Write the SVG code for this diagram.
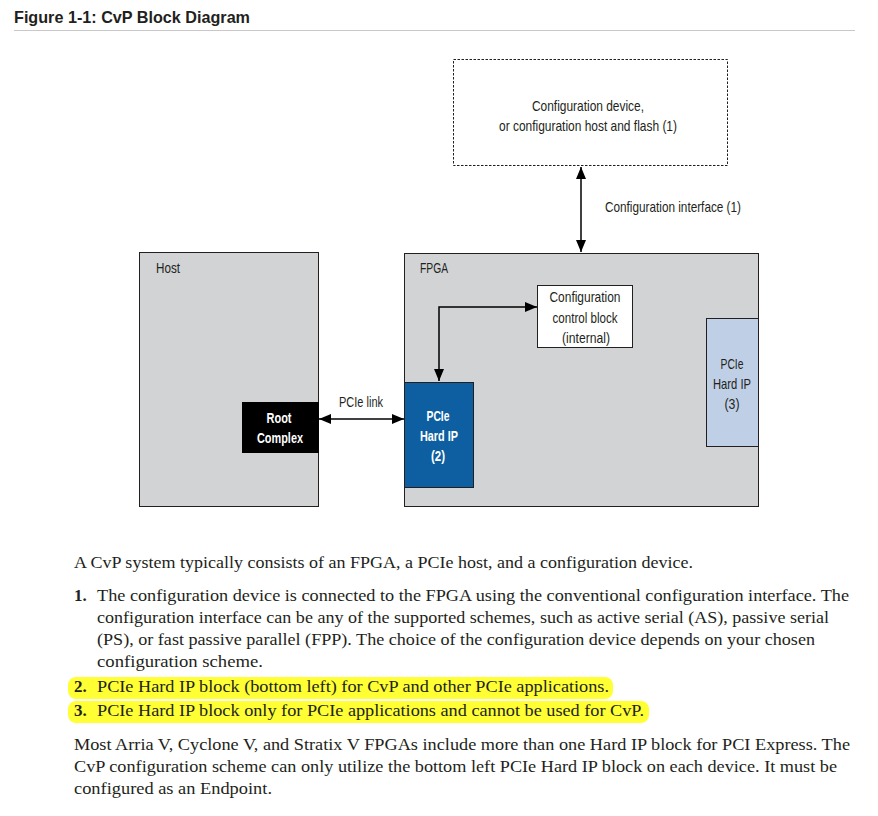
<svg xmlns="http://www.w3.org/2000/svg" width="878" height="816" viewBox="0 0 878 816">
<style>
.lbl{font-family:"Liberation Sans Narrow","Liberation Sans",Arial,sans-serif;font-size:15px;fill:#231f20;text-anchor:middle}
.lbll{font-family:"Liberation Sans Narrow","Liberation Sans",Arial,sans-serif;font-size:15px;fill:#231f20}
.wb{font-weight:bold;fill:#ffffff}
.body{font-family:"Liberation Serif","Times New Roman",serif;font-size:17px;fill:#231f20}
.num{font-weight:bold}
.conn{stroke:#000;stroke-width:1.5;fill:none}
.box{stroke:#231f20;stroke-width:1}
.hl{fill:#ffff33}
</style>
<defs>
<marker id="ah" viewBox="0 0 12 10" refX="12" refY="5" markerWidth="12" markerHeight="10" markerUnits="userSpaceOnUse" orient="auto-start-reverse">
<path d="M0,0 L12,5 L0,10 Z" fill="#000"/>
</marker>
</defs>
<rect width="878" height="816" fill="#ffffff"/>

<g id="title">
<text x="14" y="23" font-family="Liberation Sans, Arial, sans-serif" font-weight="bold" font-size="17" fill="#231f20" textLength="236" lengthAdjust="spacingAndGlyphs">Figure 1-1: CvP Block Diagram</text>
<line x1="14" y1="30.5" x2="855" y2="30.5" stroke="#c8c8c8" stroke-width="1"/>
</g>

<g id="config-device">
<rect x="453.5" y="59.5" width="274" height="106" fill="#ffffff" stroke="#231f20" stroke-width="1" stroke-dasharray="2.5,1.5"/>
<text class="lbl" x="588" y="111" textLength="112" lengthAdjust="spacingAndGlyphs">Configuration device,</text>
<text class="lbl" x="588" y="131" textLength="178" lengthAdjust="spacingAndGlyphs">or configuration host and flash (1)</text>
</g>

<g id="host">
<rect class="box" x="139.5" y="252.5" width="179" height="254" fill="#d1d3d4"/>
<text class="lbll" x="156" y="273" textLength="24" lengthAdjust="spacingAndGlyphs">Host</text>
</g>

<g id="root-complex">
<rect x="242" y="402" width="77" height="51" fill="#000000"/>
<text class="lbl wb" x="279" y="423" textLength="25" lengthAdjust="spacingAndGlyphs">Root</text>
<text class="lbl wb" x="280" y="443" textLength="46" lengthAdjust="spacingAndGlyphs">Complex</text>
</g>

<g id="fpga">
<rect class="box" x="404.5" y="253.5" width="354" height="253" fill="#d1d3d4"/>
<text class="lbll" x="420" y="273" textLength="28" lengthAdjust="spacingAndGlyphs">FPGA</text>
</g>

<g id="config-control">
<rect class="box" x="537.5" y="285.5" width="95" height="62" fill="#ffffff"/>
<text class="lbl" x="585" y="302" textLength="71" lengthAdjust="spacingAndGlyphs">Configuration</text>
<text class="lbl" x="585" y="323" textLength="65" lengthAdjust="spacingAndGlyphs">control block</text>
<text class="lbl" x="586" y="343" textLength="48" lengthAdjust="spacingAndGlyphs">(internal)</text>
</g>

<g id="pcie-hip-2">
<rect x="404.5" y="382.5" width="69" height="105" fill="#0d5fa1" stroke="#231f20" stroke-width="1"/>
<text class="lbl wb" x="438" y="421" textLength="23" lengthAdjust="spacingAndGlyphs">PCIe</text>
<text class="lbl wb" x="439" y="441" textLength="38" lengthAdjust="spacingAndGlyphs">Hard IP</text>
<text class="lbl wb" x="438" y="461" textLength="14" lengthAdjust="spacingAndGlyphs">(2)</text>
</g>

<g id="pcie-hip-3">
<rect x="706.5" y="318.5" width="52" height="128" fill="#bfcfe6" stroke="#231f20" stroke-width="1"/>
<text class="lbl" x="732" y="369" textLength="23" lengthAdjust="spacingAndGlyphs">PCIe</text>
<text class="lbl" x="732" y="389" textLength="38" lengthAdjust="spacingAndGlyphs">Hard IP</text>
<text class="lbl" x="732" y="409" textLength="15" lengthAdjust="spacingAndGlyphs">(3)</text>
</g>

<g id="connectors">
<line class="conn" x1="581" y1="167" x2="581" y2="252" marker-start="url(#ah)" marker-end="url(#ah)"/>
<text class="lbll" x="605" y="212" textLength="136" lengthAdjust="spacingAndGlyphs">Configuration interface (1)</text>
<line class="conn" x1="319" y1="419" x2="404" y2="419" marker-start="url(#ah)" marker-end="url(#ah)"/>
<text class="lbl" x="361" y="407" textLength="44" lengthAdjust="spacingAndGlyphs">PCIe link</text>
<path class="conn" d="M439,381 V307 H537" marker-start="url(#ah)" marker-end="url(#ah)"/>
</g>

<g id="text-body">
<rect class="hl" x="68" y="677" width="545" height="22" rx="8"/>
<rect class="hl" x="68" y="701" width="581" height="22" rx="8"/>
<text class="body" x="74" y="568" textLength="619" lengthAdjust="spacingAndGlyphs">A CvP system typically consists of an FPGA, a PCIe host, and a configuration device.</text>
<text class="body num" x="74" y="601">1.</text>
<text class="body" x="97" y="601" textLength="752" lengthAdjust="spacingAndGlyphs">The configuration device is connected to the FPGA using the conventional configuration interface. The</text>
<text class="body" x="97" y="623" textLength="732" lengthAdjust="spacingAndGlyphs">configuration interface can be any of the supported schemes, such as active serial (AS), passive serial</text>
<text class="body" x="97" y="645" textLength="718" lengthAdjust="spacingAndGlyphs">(PS), or fast passive parallel (FPP). The choice of the configuration device depends on your chosen</text>
<text class="body" x="97" y="667" textLength="166" lengthAdjust="spacingAndGlyphs">configuration scheme.</text>
<text class="body num" x="74" y="692">2.</text>
<text class="body" x="97" y="692" textLength="512" lengthAdjust="spacingAndGlyphs">PCIe Hard IP block (bottom left) for CvP and other PCIe applications.</text>
<text class="body num" x="74" y="716">3.</text>
<text class="body" x="97" y="716" textLength="547" lengthAdjust="spacingAndGlyphs">PCIe Hard IP block only for PCIe applications and cannot be used for CvP.</text>
<text class="body" x="74" y="750" textLength="776" lengthAdjust="spacingAndGlyphs">Most Arria V, Cyclone V, and Stratix V FPGAs include more than one Hard IP block for PCI Express. The</text>
<text class="body" x="74" y="772" textLength="763" lengthAdjust="spacingAndGlyphs">CvP configuration scheme can only utilize the bottom left PCIe Hard IP block on each device. It must be</text>
<text class="body" x="74" y="794" textLength="198" lengthAdjust="spacingAndGlyphs">configured as an Endpoint.</text>
</g>
</svg>
